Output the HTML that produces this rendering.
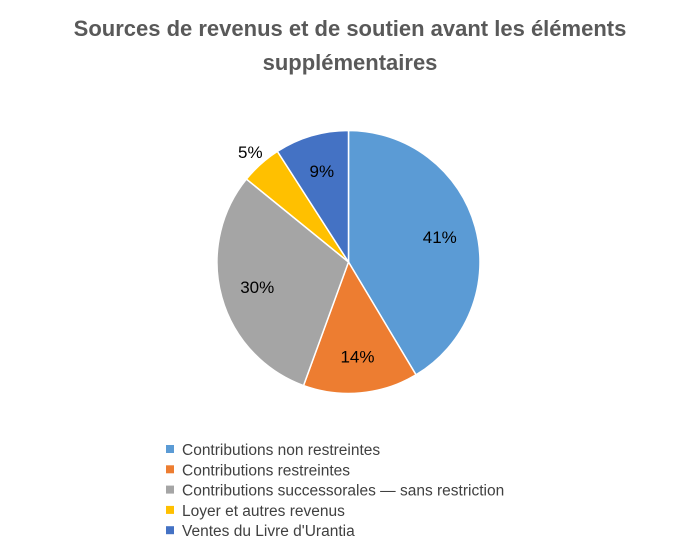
<!DOCTYPE html>
<html><head><meta charset="utf-8"><style>
body{margin:0;background:#fff;}
svg{display:block;font-family:"Liberation Sans",sans-serif;}
</style></head><body>
<svg width="700" height="550" viewBox="0 0 700 550">
<rect width="700" height="550" fill="#fff"/>
<text x="350" y="36" text-anchor="middle" font-size="22" font-weight="bold" fill="#595959">Sources de revenus et de soutien avant les éléments</text>
<text x="350" y="70" text-anchor="middle" font-size="22" font-weight="bold" fill="#595959">supplémentaires</text>
<g id="pie"></g>
<g id="labels"></g>
<g id="legend"></g>
</svg>
<script>
const categories=["Contributions non restreintes","Contributions restreintes","Contributions successorales — sans restriction","Loyer et autres revenus","Ventes du Livre d'Urantia"];
const values=[41,14,30,5,9];
const valueLabels=["41%","14%","30%","5%","9%"];
const colors=["#5B9BD5","#ED7D31","#A5A5A5","#FFC000","#4472C4"];
const NS="http://www.w3.org/2000/svg";
const cx=348.5,cy=262,r=131.5;
const total=values.reduce((a,b)=>a+b,0);
const pie=document.getElementById('pie'),lab=document.getElementById('labels'),leg=document.getElementById('legend');
function pt(a,rr){return [cx+rr*Math.sin(a),cy-rr*Math.cos(a)];}
let acc=0;
values.forEach((v,i)=>{
  const a0=acc/total*2*Math.PI; acc+=v; const a1=acc/total*2*Math.PI;
  const p0=pt(a0,r),p1=pt(a1,r);
  const path=document.createElementNS(NS,'path');
  path.setAttribute('d',`M${cx},${cy}L${p0[0]},${p0[1]}A${r},${r} 0 ${a1-a0>Math.PI?1:0} 1 ${p1[0]},${p1[1]}Z`);
  path.setAttribute('fill',colors[i]);path.setAttribute('stroke','#fff');path.setAttribute('stroke-width','1.5');
  
  
  pie.appendChild(path);
  const frac=v/total;
  const m=(a0+a1)/2; const lp=pt(m,frac<0.07?r*1.12:r*0.72);
  const t=document.createElementNS(NS,'text');
  t.setAttribute('x',lp[0]);t.setAttribute('y',lp[1]+6);t.setAttribute('text-anchor','middle');
  t.setAttribute('font-size','17');t.setAttribute('fill','#000');t.textContent=valueLabels[i];
  
  
  lab.appendChild(t);
  const y=450+i*20.3;
  const sq=document.createElementNS(NS,'rect');
  sq.setAttribute('x',166);sq.setAttribute('y',y-5);sq.setAttribute('width',8);sq.setAttribute('height',8);sq.setAttribute('fill',colors[i]);
  
  
  leg.appendChild(sq);
  const lt=document.createElementNS(NS,'text');
  lt.setAttribute('x',182);lt.setAttribute('y',y+5);lt.setAttribute('font-size','15.5');lt.setAttribute('fill','#404040');lt.textContent=categories[i];
  
  
  leg.appendChild(lt);
});
</script>
</body></html>
